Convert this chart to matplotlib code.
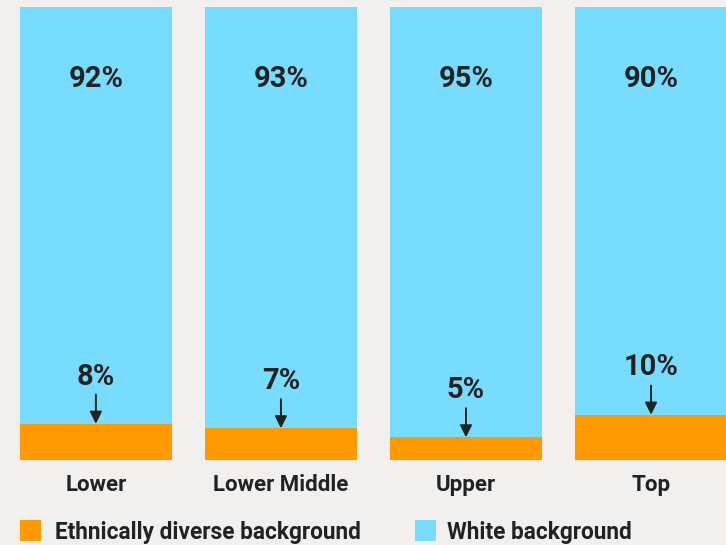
import matplotlib
matplotlib.use("Agg")
import matplotlib.pyplot as plt
from matplotlib.patches import Rectangle

# data
levels = ["Lower", "Lower Middle", "Upper", "Top"]
diverse = [8, 7, 5, 10]
white = [92, 93, 95, 90]

ORANGE = "#FF9900"
BLUE = "#78DCFF"
BG = "#F1F0EE"
TXT = "#222222"

plt.rcParams["font.family"] = ["Roboto", "DejaVu Sans"]

fig = plt.figure(figsize=(7.26, 5.45), dpi=100, facecolor=BG)
ax = fig.add_axes([20 / 726, 85 / 545, 706 / 726, 453 / 545])
ax.set_facecolor(BG)

x = range(len(levels))
ax.bar(x, diverse, width=0.82, color=ORANGE, linewidth=0)
ax.bar(x, white, bottom=diverse, width=0.82, color=BLUE, linewidth=0)

ax.set_xlim(-0.41, 3.405)
ax.set_ylim(0, 100)

for i in x:
    # big share label near top
    ax.text(i, 84, f"{white[i]}%", ha="center", va="center",
            fontsize=21, fontweight="bold", color=TXT)
    # small share label with arrow pointing at the orange block
    ax.annotate("", xy=(i, diverse[i]), xytext=(0, 21), textcoords="offset points",
                arrowprops=dict(arrowstyle="-|>", color=TXT, lw=1.4, mutation_scale=18,
                                shrinkA=0, shrinkB=0))
    ax.annotate(f"{diverse[i]}%", xy=(i, diverse[i]), xytext=(0, 34),
                textcoords="offset points", ha="center", va="center",
                fontsize=21, fontweight="bold", color=TXT)
    ax.text(i, -5.6, levels[i], ha="center", va="center",
            fontsize=16, fontweight="bold", color=TXT)

for s in ax.spines.values():
    s.set_visible(False)
ax.set_xticks([])
ax.set_yticks([])

# legend
fig.patches.append(Rectangle((20 / 726, 4 / 545), 21 / 726, 21 / 545,
                             transform=fig.transFigure, color=ORANGE, linewidth=0))
fig.text(55 / 726, 12 / 545, "Ethnically diverse background", ha="left", va="center",
         fontsize=16.3, fontweight="bold", color=TXT)
fig.patches.append(Rectangle((415 / 726, 4 / 545), 21 / 726, 21 / 545,
                             transform=fig.transFigure, color=BLUE, linewidth=0))
fig.text(447 / 726, 12 / 545, "White background", ha="left", va="center",
         fontsize=16.3, fontweight="bold", color=TXT)

fig.savefig("out.png", dpi=100, facecolor=BG)
